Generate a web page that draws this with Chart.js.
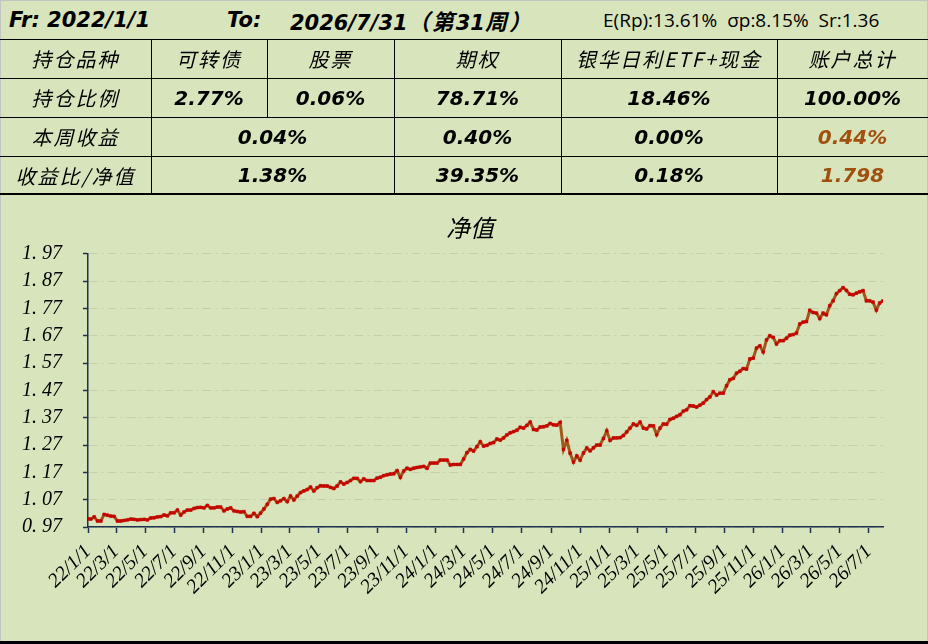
<!DOCTYPE html>
<html lang="zh-CN">
<head>
  <meta charset="UTF-8">
  <meta name="viewport" content="width=device-width, initial-scale=1.0">
  <title>净值</title>
  <script src="https://cdn.jsdelivr.net/npm/chart.js"></script>
  <style>
    html, body { margin: 0; padding: 0; background: #d8e4bc; }
    .sheet { position: relative; width: 928px; height: 644px; background: #d8e4bc; overflow: hidden; }
    .frame { position: absolute; left: 0; top: 0; width: 926px; height: 644px; border: 1px solid #c4c4c4; border-bottom: none; pointer-events: none; }
    .rule { position: absolute; background: #000; }
    .head { position: absolute; top: 0; height: 39px; line-height: 40px; white-space: pre; color: #000;
            font-family: "DejaVu Sans", sans-serif; font-weight: bold; font-style: italic; font-size: 21px; }
    .head .cjk { font-family: "Noto Sans CJK SC", sans-serif; font-size: 22px; letter-spacing: 2px; }
    .stats-line { position: absolute; top: 0; height: 39px; line-height: 40px; white-space: pre; left: 603px;
                  font-family: "Open Sans", sans-serif; font-size: 19px; color: #000; }
    .cell { position: absolute; display: flex; align-items: center; justify-content: center; color: #000; }
    .cn { font-family: "Noto Sans CJK SC", sans-serif; font-style: italic; font-size: 20px; letter-spacing: 2px; }
    .num { font-family: "DejaVu Sans", sans-serif; font-weight: bold; font-style: italic; font-size: 20px; }
    .brown { color: #a0500f; }
    #navChart { position: absolute; left: 0; top: 196px; }
  </style>
</head>
<body>
  <div class="sheet" id="sheet">
    <span class="head" style="left:9px">Fr: 2022/1/1</span>
    <span class="head" style="left:227px">To:</span>
    <span class="head" style="left:290px">2026/7/31<span class="cjk">（第</span>31<span class="cjk">周）</span></span>
    <span class="stats-line">E(Rp):13.61%  σp:8.15%  Sr:1.36</span>
    <canvas id="navChart" width="928" height="445"></canvas>
    <div class="frame"></div>
  </div>

  <script>
    // weekly net value (2022/1/1 then every Friday to 2026/7/31)
    const navValues = [
      1.000, 0.999, 1.007, 0.992, 0.992, 1.016, 1.013, 1.010, 1.009, 0.992,
      0.992, 0.994, 0.996, 0.999, 0.998, 0.996, 0.997, 0.998, 0.996, 1.003,
      1.004, 1.007, 1.008, 1.014, 1.011, 1.022, 1.022, 1.032, 1.014, 1.025,
      1.032, 1.032, 1.038, 1.041, 1.042, 1.040, 1.049, 1.040, 1.040, 1.043,
      1.043, 1.029, 1.036, 1.040, 1.029, 1.027, 1.025, 1.026, 1.009, 1.009,
      1.020, 1.008, 1.021, 1.036, 1.053, 1.072, 1.074, 1.060, 1.066, 1.074,
      1.063, 1.083, 1.069, 1.083, 1.096, 1.102, 1.107, 1.116, 1.102, 1.114,
      1.121, 1.120, 1.120, 1.115, 1.111, 1.120, 1.135, 1.127, 1.133, 1.140,
      1.148, 1.148, 1.136,
      1.146, 1.140, 1.140, 1.140, 1.149, 1.152, 1.158, 1.161, 1.164, 1.165,
      1.176, 1.152, 1.175, 1.185, 1.181, 1.185, 1.188, 1.190, 1.192, 1.185,
      1.204, 1.204, 1.204, 1.215, 1.215, 1.215, 1.197, 1.199, 1.199, 1.199,
      1.219, 1.242, 1.254, 1.248, 1.264, 1.282, 1.266, 1.269, 1.276, 1.279,
      1.292, 1.288, 1.296, 1.307, 1.315, 1.319, 1.324, 1.335, 1.332, 1.342,
      1.354, 1.327, 1.325, 1.336, 1.337, 1.340, 1.349, 1.344, 1.343, 1.353,
      1.254, 1.287, 1.240, 1.208, 1.230, 1.215, 1.241, 1.259, 1.249, 1.260,
      1.270, 1.270, 1.294, 1.322, 1.287, 1.296, 1.296, 1.297,
      1.305, 1.318, 1.332, 1.347, 1.342, 1.354, 1.332, 1.329, 1.341, 1.340,
      1.308, 1.332, 1.347, 1.346, 1.364, 1.368, 1.375, 1.381, 1.394, 1.399,
      1.414, 1.413, 1.409, 1.416, 1.424, 1.436, 1.446, 1.465, 1.453, 1.460,
      1.460, 1.487, 1.509, 1.514, 1.533, 1.540, 1.550, 1.548, 1.585, 1.588,
      1.625, 1.633, 1.611, 1.655, 1.670, 1.664, 1.640, 1.652, 1.652, 1.661,
      1.672, 1.674, 1.680, 1.713, 1.720, 1.722, 1.763, 1.755, 1.753, 1.733,
      1.753, 1.747, 1.780, 1.798, 1.824, 1.835, 1.846, 1.836, 1.822, 1.820,
      1.826, 1.831, 1.835, 1.798, 1.798, 1.793, 1.764, 1.790, 1.798
    ];

    const xTickLabels = [
      '22/1/1', '22/3/1', '22/5/1', '22/7/1', '22/9/1', '22/11/1',
      '23/1/1', '23/3/1', '23/5/1', '23/7/1', '23/9/1', '23/11/1',
      '24/1/1', '24/3/1', '24/5/1', '24/7/1', '24/9/1', '24/11/1',
      '25/1/1', '25/3/1', '25/5/1', '25/7/1', '25/9/1', '25/11/1',
      '26/1/1', '26/3/1', '26/5/1', '26/7/1'
    ];

    const yTicks = [0.97, 1.07, 1.17, 1.27, 1.37, 1.47, 1.57, 1.67, 1.77, 1.87, 1.97];

    // table rows: [text, left, right, kind]
    const tableRows = [
      { top: 39, bottom: 78, cells: [
        ['持仓品种', 0, 151, 'cn'], ['可转债', 151, 267, 'cn'], ['股票', 267, 394, 'cn'],
        ['期权', 394, 561, 'cn'], ['银华日利ETF+现金', 561, 777, 'cn'], ['账户总计', 777, 928, 'cn']] },
      { top: 78, bottom: 117, cells: [
        ['持仓比例', 0, 151, 'cn'], ['2.77%', 151, 267, 'num'], ['0.06%', 267, 394, 'num'],
        ['78.71%', 394, 561, 'num'], ['18.46%', 561, 777, 'num'], ['100.00%', 777, 928, 'num']] },
      { top: 117, bottom: 156, cells: [
        ['本周收益', 0, 151, 'cn'], ['0.04%', 151, 394, 'num'], ['0.40%', 394, 561, 'num'],
        ['0.00%', 561, 777, 'num'], ['0.44%', 777, 928, 'num brown']] },
      { top: 156, bottom: 194, cells: [
        ['收益比/净值', 0, 151, 'cn'], ['1.38%', 151, 394, 'num'], ['39.35%', 394, 561, 'num'],
        ['0.18%', 561, 777, 'num'], ['1.798', 777, 928, 'num brown']] }
    ];

    // [x, y, w, h]
    const tableRules = [
      [0, 39, 928, 1], [0, 78, 928, 1], [0, 117, 928, 1], [0, 156, 928, 1], [0, 193, 928, 2],
      [151, 39, 1, 155], [267, 39, 1, 78], [394, 39, 1, 155], [561, 39, 1, 155], [777, 39, 1, 155],
      [0, 641, 928, 3]
    ];

    const sheet = document.querySelector('#sheet');

    tableRules.forEach(([x, y, w, h]) => {
      const d = document.createElement('div');
      d.className = 'rule';
      d.style.cssText = `left:${x}px;top:${y}px;width:${w}px;height:${h}px`;
      sheet.appendChild(d);
    });

    tableRows.forEach(row => {
      row.cells.forEach(([text, left, right, kind]) => {
        const d = document.createElement('div');
        d.className = 'cell ' + kind;
        d.style.cssText = `left:${left}px;top:${row.top}px;width:${right - left}px;height:${row.bottom - row.top}px`;
        d.textContent = text;
        sheet.appendChild(d);
      });
    });

    const DAY = 86400000;
    const startDay = Date.UTC(2022, 0, 1);
    const endDay = (Date.UTC(2026, 6, 31) - startDay) / DAY;
    // first point on 1/1, then one point per Friday
    const pointDays = navValues.map((v, i) => (i === 0 ? 0 : 6 + 7 * (i - 1)));
    const xTickDays = xTickLabels.map(s => {
      const [y, m, d] = s.split('/').map(Number);
      return (Date.UTC(2000 + y, m - 1, d) - startDay) / DAY;
    });

    const axisColor = '#1f2f4f';
    const tickFont = { family: '"Liberation Serif", serif', size: 20, style: 'italic' };

    // the original title sits a little right of the canvas centre
    const titleShift = {
      id: 'titleShift',
      afterLayout(chart) {
        chart.titleBlock.left = 12;
        chart.titleBlock.right = 928;
      }
    };

    new Chart(document.querySelector('#navChart'), {
      type: 'line',
      data: {
        datasets: [{
          label: '净值',
          data: pointDays.map((d, i) => ({ x: d, y: navValues[i] })),
          borderColor: '#a3561b',
          borderWidth: 3,
          pointStyle: 'rect',
          pointRadius: 2,
          pointBackgroundColor: '#c80000',
          pointBorderColor: '#c80000',
          pointBorderWidth: 0.5,
          tension: 0
        }]
      },
      plugins: [titleShift],
      options: {
        responsive: false,
        animation: false,
        layout: { padding: { left: 0, right: 45, top: 0, bottom: 0 } },
        plugins: {
          legend: { display: false },
          tooltip: { enabled: false },
          title: {
            display: true,
            text: '净值',
            color: '#000',
            font: { family: '"Noto Sans CJK SC", sans-serif', size: 24, style: 'italic', weight: 'normal' },
            padding: { top: 17, bottom: 12 }
          }
        },
        scales: {
          x: {
            type: 'linear',
            min: 0,
            max: endDay,
            afterBuildTicks: scale => { scale.ticks = xTickDays.map(v => ({ value: v })); },
            afterFit: scale => { scale.height = 114; },
            ticks: {
              autoSkip: false,
              minRotation: 45,
              maxRotation: 45,
              padding: 7,
              color: '#000',
              font: tickFont,
              callback: (v, i) => xTickLabels[i]
            },
            grid: { drawOnChartArea: false, drawTicks: true, tickLength: 6, tickWidth: 1.5, tickColor: axisColor, color: axisColor },
            border: { display: true, color: axisColor, width: 1.5 }
          },
          y: {
            min: 0.97,
            max: 1.97,
            afterBuildTicks: scale => { scale.ticks = yTicks.map(v => ({ value: v })); },
            afterFit: scale => { scale.width = 88; },
            ticks: {
              padding: 21,
              color: '#000',
              font: tickFont,
              callback: v => Number(v).toFixed(2).replace('.', '. ')
            },
            grid: { color: '#c4d0ab', lineWidth: 1, tickLength: 5, tickWidth: 1.5, tickColor: axisColor },
            border: { display: true, color: axisColor, width: 1.5, dash: [9, 4, 2, 4] }
          }
        }
      }
    });
  </script>
</body>
</html>
